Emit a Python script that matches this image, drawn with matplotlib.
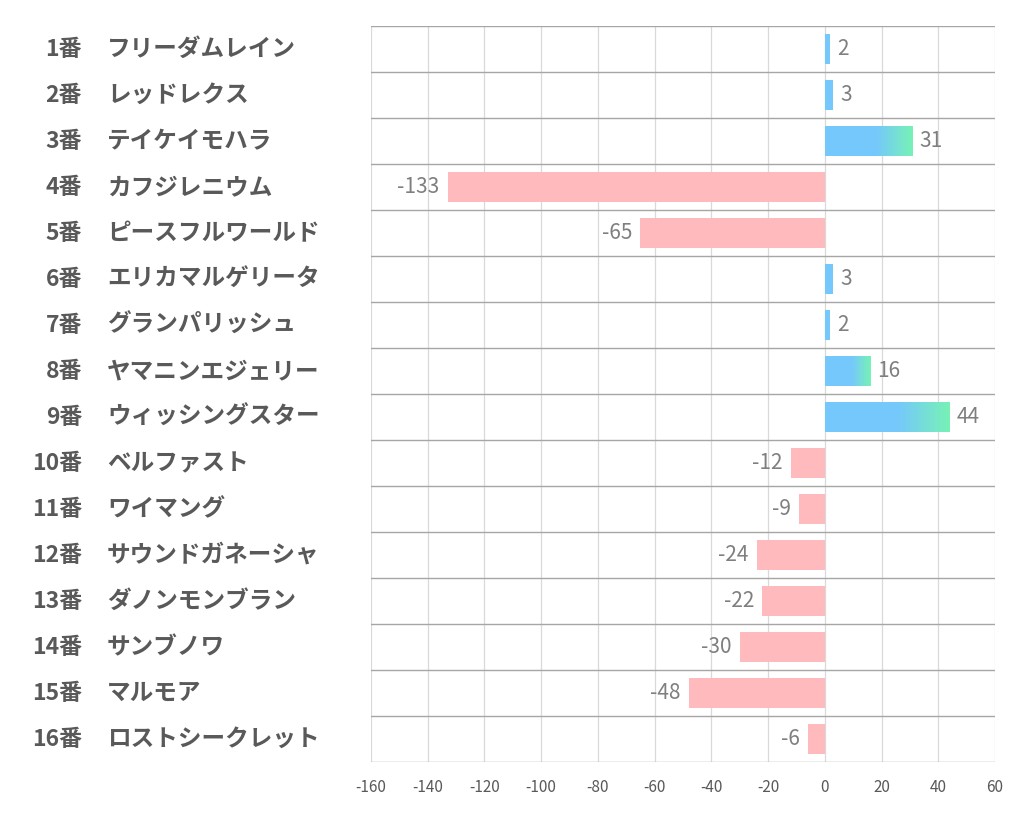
import numpy as np
import matplotlib
matplotlib.use('Agg')
import matplotlib.pyplot as plt
from matplotlib.colors import LinearSegmentedColormap
from matplotlib.transforms import blended_transform_factory

plt.rcParams['font.family'] = ['Noto Sans CJK JP', 'DejaVu Sans']

numbers = ['1番', '2番', '3番', '4番', '5番', '6番', '7番', '8番',
           '9番', '10番', '11番', '12番', '13番', '14番', '15番', '16番']
names = ['フリーダムレイン', 'レッドレクス', 'テイケイモハラ', 'カフジレニウム',
         'ピースフルワールド', 'エリカマルゲリータ', 'グランパリッシュ', 'ヤマニンエジェリー',
         'ウィッシングスター', 'ベルファスト', 'ワイマング', 'サウンドガネーシャ',
         'ダノンモンブラン', 'サンブノワ', 'マルモア', 'ロストシークレット']
values = [2, 3, 31, -133, -65, 3, 2, 16, 44, -12, -9, -24, -22, -30, -48, -6]
xticks = [-160, -140, -120, -100, -80, -60, -40, -20, 0, 20, 40, 60]

blue = '#75C8FC'
green = '#77F2B6'
pink = '#FFBABD'
text_gray = '#595959'
value_gray = '#7F7F7F'

fig = plt.figure(figsize=(10.22, 8.34), dpi=100)
ax = fig.add_axes([371/1022, 1 - 762/834, 624/1022, 736/834])

grad = LinearSegmentedColormap.from_list('g', [(0, blue), (0.58, blue), (1, green)])
gradient = np.linspace(0, 1, 256).reshape(1, -1)

h = 0.64
for i, v in enumerate(values):
    if v >= 0:
        bar = ax.barh(i, v, height=h, color=blue, zorder=2)[0]
        if v >= 10:
            im = ax.imshow(gradient, cmap=grad, aspect='auto',
                           extent=[0, v, i + h / 2, i - h / 2], zorder=3)
            im.set_clip_path(bar)
        ax.annotate(str(v), (v, i), xytext=(5, 0), textcoords='offset points',
                    ha='left', va='center', fontsize=15, color=value_gray)
    else:
        ax.barh(i, v, height=h, color=pink, zorder=2)
        ax.annotate(str(v), (v, i), xytext=(-6, 0), textcoords='offset points',
                    ha='right', va='center', fontsize=15, color=value_gray)

ax.set_xlim(-160, 60)
ax.set_ylim(len(values) - 0.5, -0.5)
ax.set_xticks(xticks)
ax.set_xticklabels([str(t) for t in xticks], fontsize=11, color=text_gray)
ax.set_yticks([])
ax.tick_params(axis='x', length=0, pad=12)

for t in xticks:
    ax.axvline(t, color='#D9D9D9', lw=0.9, zorder=1)
for k in range(len(values) + 1):
    ax.axhline(k - 0.5, color='#A6A6A6', lw=1.0, zorder=1)

for s in ax.spines.values():
    s.set_visible(False)

tr = blended_transform_factory(fig.transFigure, ax.transData)
for i in range(len(values)):
    ax.text(82/1022, i, numbers[i], transform=tr, ha='right', va='center',
            fontsize=16.5, fontweight='bold', color=text_gray)
    ax.text(107/1022, i, names[i], transform=tr, ha='left', va='center',
            fontsize=17, fontweight='bold', color=text_gray)

fig.savefig('out.png', dpi=100, facecolor='white')
